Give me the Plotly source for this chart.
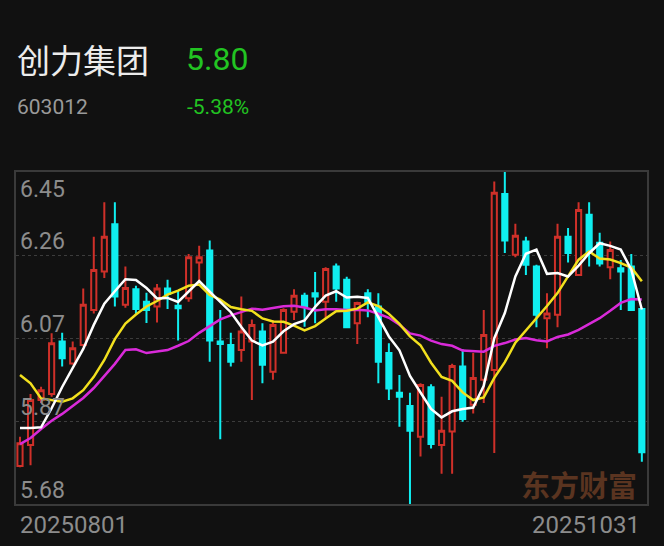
import plotly.graph_objects as go

# ---------------- data ----------------
stock_name = "创力集团"
stock_code = "603012"
last_price = "5.80"
pct_change = "-5.38%"
watermark = "东方财富"
x_tick_labels = ["20250801", "20251031"]
y_tick_values = [6.45, 6.2575, 6.065, 5.8725, 5.68]
y_tick_labels = ["6.45", "6.26", "6.07", "5.87", "5.68"]

opens = [5.768, 5.817, 5.921, 5.935, 6.057, 6.006, 6.049, 6.130, 6.219, 6.329,
         6.142, 6.178, 6.149, 6.138, 6.180, 6.140, 6.157, 6.240, 6.268, 6.057,
         6.049, 6.037, 6.057, 6.080, 5.987, 6.031, 6.126, 6.163, 6.169, 6.149,
         6.231, 6.200, 6.099, 6.169, 6.138, 6.030, 5.938, 5.907, 5.836, 5.951,
         5.817, 5.848, 5.999, 5.910, 5.968, 5.991, 6.399, 6.258, 6.289, 6.231,
         6.111, 6.119, 6.300, 6.211, 6.351, 6.286, 6.229, 6.227, 6.231, 6.132]

highs = [5.836, 5.935, 5.952, 6.076, 6.077, 6.057, 6.180, 6.300, 6.380, 6.380,
         6.231, 6.186, 6.170, 6.190, 6.200, 6.175, 6.260, 6.279, 6.291, 6.130,
         6.077, 6.161, 6.108, 6.099, 6.107, 6.134, 6.178, 6.170, 6.218, 6.229,
         6.238, 6.207, 6.149, 6.178, 6.169, 6.053, 5.979, 5.938, 5.960, 5.958,
         5.929, 6.005, 6.039, 6.030, 6.130, 6.428, 6.450, 6.330, 6.300, 6.235,
         6.169, 6.330, 6.320, 6.380, 6.380, 6.309, 6.289, 6.246, 6.260, 6.132]

lows = [5.765, 5.770, 5.914, 5.929, 5.999, 6.003, 6.045, 6.122, 6.204, 6.138,
        6.135, 6.121, 6.100, 6.101, 6.132, 6.059, 6.149, 6.192, 6.010, 5.830,
        5.999, 6.010, 5.921, 5.960, 5.968, 6.030, 6.107, 6.091, 6.099, 6.111,
        6.149, 6.088, 6.051, 6.113, 5.960, 5.921, 5.859, 5.680, 5.790, 5.809,
        5.750, 5.750, 5.871, 5.890, 5.914, 5.798, 6.262, 6.252, 6.211, 6.090,
        6.041, 6.090, 6.240, 6.209, 6.231, 6.231, 6.201, 6.130, 6.130, 5.778]

closes = [5.821, 5.921, 5.944, 6.053, 6.018, 6.041, 6.142, 6.223, 6.300, 6.161,
          6.181, 6.132, 6.130, 6.180, 6.167, 6.134, 6.252, 6.252, 6.059, 6.051,
          6.010, 6.080, 6.095, 6.003, 6.095, 6.130, 6.163, 6.138, 6.161, 6.225,
          6.180, 6.090, 6.146, 6.149, 6.010, 5.948, 5.929, 5.850, 5.956, 5.819,
          5.850, 6.000, 5.877, 5.972, 6.072, 6.402, 6.291, 6.302, 6.235, 6.119,
          6.122, 6.300, 6.262, 6.362, 6.262, 6.238, 6.269, 6.219, 6.130, 5.800]

# moving-average values before enough in-window closes exist
ma5_head = [5.856, 5.856, 5.858, 5.902]
ma10_head = [5.979, 5.960, 5.925, 5.921, 5.917, 5.925, 5.944, 5.975, 6.014]
ma20_head = [5.819, 5.833, 5.854, 5.873, 5.889, 5.907, 5.926, 5.949, 5.977, 6.005,
             6.037, 6.039, 6.030, 6.034, 6.037, 6.047, 6.058, 6.077, 6.093]


def moving_average(values, n, head):
    out = list(head)
    for i in range(len(head), len(values)):
        out.append(sum(values[i - n + 1:i + 1]) / n)
    return out


ma5 = moving_average(closes, 5, ma5_head)
ma10 = moving_average(closes, 10, ma10_head)
ma20 = moving_average(closes, 20, ma20_head)
x = list(range(len(closes)))

# ---------------- style ----------------
W, H = 664, 546
L, R, T, B = 16, 17, 172, 42
BG = "#111111"
RED = "#cf3029"
CYAN = "#10eef0"
GREEN = "#22c422"
FRAME = "#3a3a3a"
GRID = "#3c3c3c"
LABEL = "#8c8c8c"
NUM_FONT = "Roboto"
CJK_FONT = "Noto Sans CJK SC"

pw, ph = W - L - R, H - T - B


def px(xp):
    return (xp - L) / pw


def py(yp):
    return (H - B - yp) / ph


fig = go.Figure()
fig.add_trace(go.Candlestick(
    x=x, open=opens, high=highs, low=lows, close=closes,
    increasing=dict(line=dict(color=RED, width=2), fillcolor=BG),
    decreasing=dict(line=dict(color=CYAN, width=2), fillcolor=CYAN),
    whiskerwidth=0, showlegend=False, hoverinfo="skip"))
fig.add_trace(go.Scatter(x=x, y=ma20, mode="lines", line=dict(color="#d92ad9", width=2.5),
                         showlegend=False, hoverinfo="skip"))
fig.add_trace(go.Scatter(x=x, y=ma10, mode="lines", line=dict(color="#f2e01e", width=2.5),
                         showlegend=False, hoverinfo="skip"))
fig.add_trace(go.Scatter(x=x, y=ma5, mode="lines", line=dict(color="#ffffff", width=2.5),
                         showlegend=False, hoverinfo="skip"))

annotations = []
# y labels inside plot
for v, t in zip(y_tick_values, y_tick_labels):
    annotations.append(dict(xref="paper", yref="y", x=0, y=v, xanchor="left",
                            yanchor="top" if v == max(y_tick_values) else "bottom",
                            xshift=2, yshift=-2, text=t, showarrow=False,
                            font=dict(family=NUM_FONT, size=23, color=LABEL)))
# x labels
annotations.append(dict(xref="paper", yref="paper", x=0, y=0, xanchor="left", yanchor="top",
                        xshift=2, yshift=-5, text=x_tick_labels[0], showarrow=False,
                        font=dict(family=NUM_FONT, size=24, color=LABEL)))
annotations.append(dict(xref="paper", yref="paper", x=1, y=0, xanchor="right", yanchor="top",
                        xshift=-5, yshift=-5, text=x_tick_labels[1], showarrow=False,
                        font=dict(family=NUM_FONT, size=24, color=LABEL)))
# header
annotations.append(dict(xref="paper", yref="paper", x=px(17), y=py(59), xanchor="left",
                        yanchor="middle", xshift=-2, text=stock_name, showarrow=False,
                        font=dict(family=CJK_FONT, size=33, color="#ececec")))
annotations.append(dict(xref="paper", yref="paper", x=px(186), y=py(59), xanchor="left",
                        yanchor="middle", xshift=-2, text=last_price, showarrow=False,
                        font=dict(family=NUM_FONT, size=32, color=GREEN)))
annotations.append(dict(xref="paper", yref="paper", x=px(17), y=py(107), xanchor="left",
                        yanchor="middle", xshift=-2, text=stock_code, showarrow=False,
                        font=dict(family=NUM_FONT, size=21, color="#9a9a9a")))
annotations.append(dict(xref="paper", yref="paper", x=px(187), y=py(107), xanchor="left",
                        yanchor="middle", xshift=-2, text=pct_change, showarrow=False,
                        font=dict(family=NUM_FONT, size=21, color=GREEN)))
# watermark
annotations.append(dict(xref="paper", yref="paper", x=px(579), y=py(484), xanchor="center",
                        yanchor="middle", text=watermark, showarrow=False,
                        font=dict(family=CJK_FONT, size=29, color="#5a3420", weight=700)))

fig.update_layout(
    width=W, height=H,
    margin=dict(l=L, r=R, t=T, b=B, pad=0),
    paper_bgcolor=BG, plot_bgcolor=BG,
    showlegend=False,
    annotations=annotations,
    xaxis=dict(range=[-0.38, 59.49], showgrid=False, zeroline=False, showticklabels=False,
               ticks="", showline=True, mirror=True, linecolor=FRAME, linewidth=2,
               rangeslider=dict(visible=False), fixedrange=True),
    yaxis=dict(range=[5.68, 6.45], tickvals=y_tick_values[1:4], showticklabels=False,
               ticks="", showgrid=True, gridcolor=GRID, griddash="dot", gridwidth=1,
               zeroline=False, showline=True, mirror=True, linecolor=FRAME, linewidth=2,
               fixedrange=True),
)

fig.write_html(
    "out.html",
    config={"displayModeBar": False, "staticPlot": True},
    post_script="document.body.style.margin='0';document.body.style.padding='0';"
                "document.body.style.overflow='hidden';"
                "document.body.style.background='#111111';",
)
